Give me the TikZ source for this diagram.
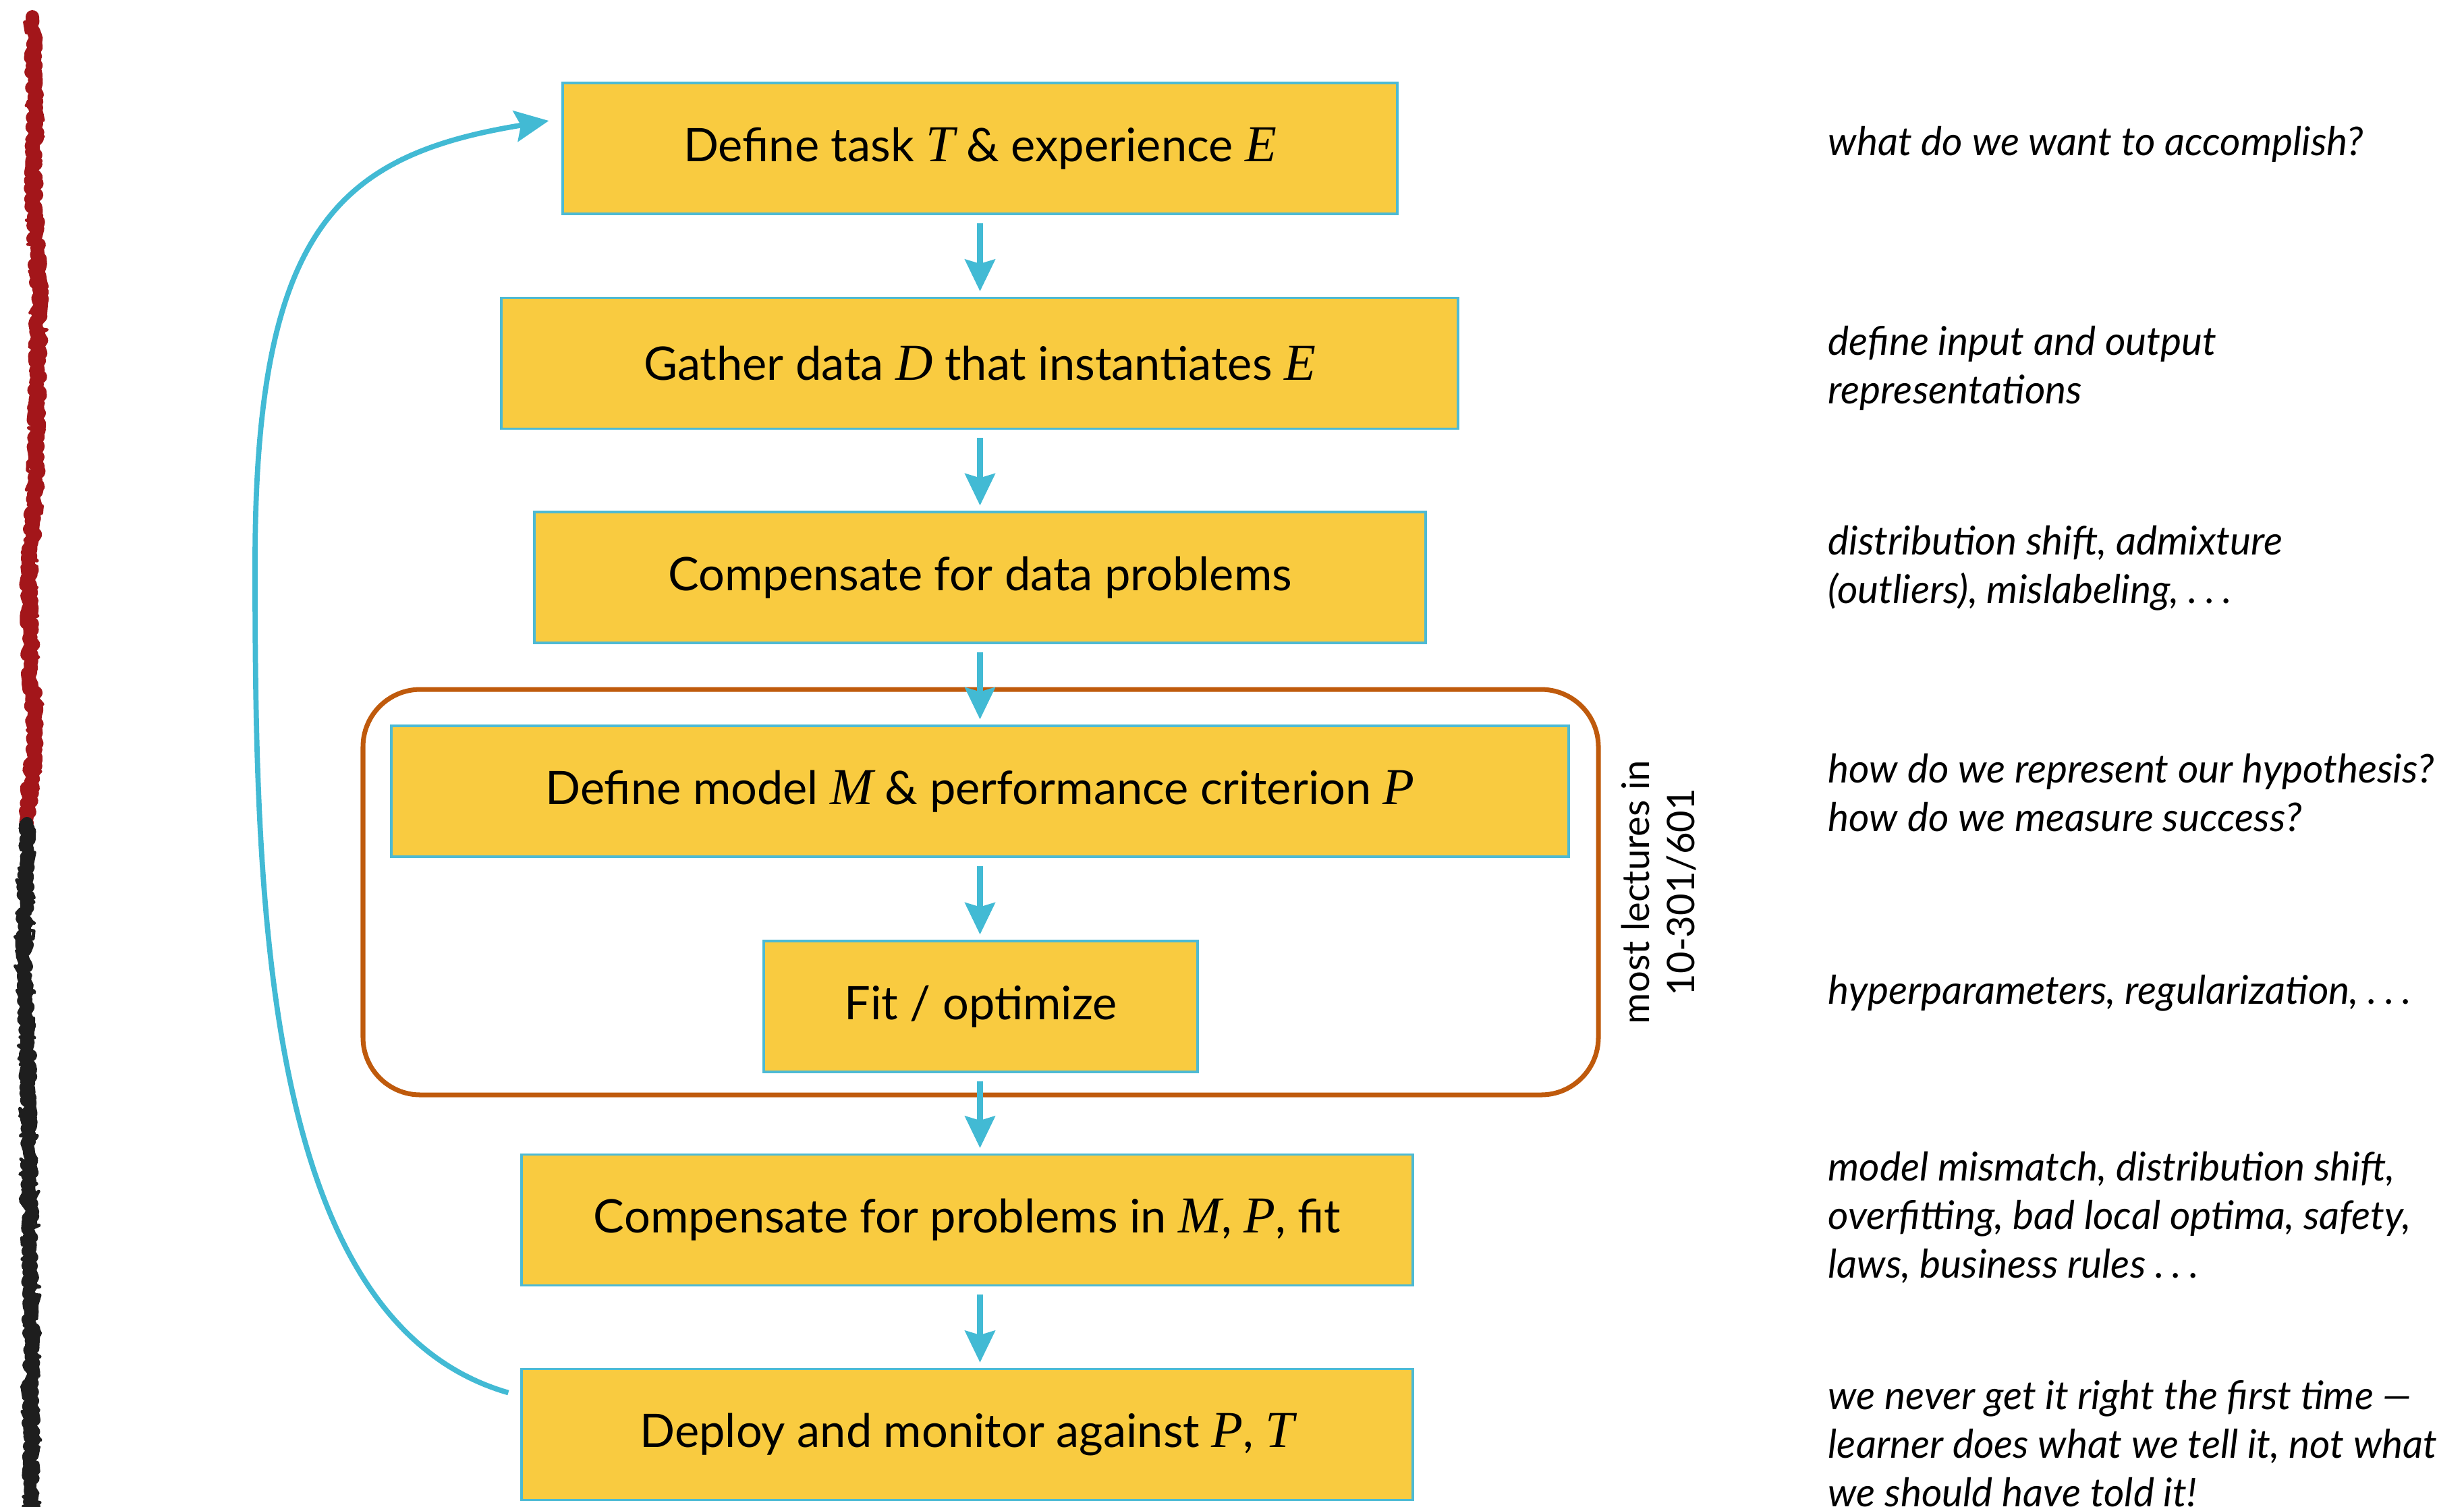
\documentclass[tikz,border=0pt]{standalone}
\usepackage{fontspec}
\setmainfont{Lato}
\newfontfamily\varfont[Scale=1.12]{Liberation Serif}
\usetikzlibrary{arrows.meta,decorations.pathmorphing}
\definecolor{boxfill}{HTML}{F9CB40}
\definecolor{boxline}{HTML}{4DBAD4}
\definecolor{flow}{HTML}{42BAD4}
\definecolor{course}{HTML}{BF5A0C}
\definecolor{inkred}{HTML}{A3161A}
\definecolor{inkblack}{HTML}{1E1E1E}
\newcommand{\var}[1]{{\varfont\itshape #1}}
\newcommand{\spdots}{.\kern0.2em.\kern0.2em.}

\begin{document}
\begin{tikzpicture}[
  stage/.style={draw=boxline, line width=0.9pt, fill=boxfill, inner sep=0pt,
    minimum height=1.94cm, font=\fontsize{19.5}{24}\selectfont},
  flowarrow/.style={flow, line width=2.6pt,
    -{Stealth[length=0.47cm,width=0.44cm,inset=0.06cm]},
    shorten <=0.12cm, shorten >=0.08cm},
  loopback/.style={flow, line width=2.2pt,
    -{Stealth[length=0.5cm,width=0.46cm,inset=0.08cm]}},
  note/.style={anchor=west, align=left, inner sep=0pt,
    font=\fontsize{16.7}{20.5}\selectfont\itshape},
  stripe/.style={line width=#1, line join=round, line cap=round, decorate,
    decoration={random steps, segment length=0.04cm, amplitude=0.05cm}},
]
  \useasboundingbox (0,0) rectangle (36.52,-22.33);

  \pgfmathsetseed{11}
  \draw[inkred, stripe=0.2cm] (0.48,-0.25) -- (0.52,-1.6) -- (0.50,-2.85) -- (0.58,-4.3)
    -- (0.55,-5.7) -- (0.53,-7.12) -- (0.43,-8.55) -- (0.45,-9.97) -- (0.52,-10.6)
    -- (0.50,-11.11) -- (0.40,-12.2);
  \draw[inkred, stripe=0.05cm, decoration={amplitude=0.13cm}] (0.48,-0.3) -- (0.52,-1.6)
    -- (0.50,-2.85) -- (0.58,-4.3) -- (0.55,-5.7) -- (0.53,-7.12) -- (0.43,-8.55)
    -- (0.45,-9.97) -- (0.52,-10.6) -- (0.50,-11.11) -- (0.40,-12.2);
  \draw[inkblack, stripe=0.18cm] (0.40,-12.2) -- (0.38,-12.82) -- (0.36,-14.25)
    -- (0.41,-15.67) -- (0.43,-17.09) -- (0.45,-18.52) -- (0.46,-19.94) -- (0.46,-22.5);
  \draw[inkblack, stripe=0.05cm, decoration={amplitude=0.14cm}] (0.40,-12.2) -- (0.38,-12.82)
    -- (0.36,-14.25) -- (0.41,-15.67) -- (0.43,-17.09) -- (0.45,-18.52) -- (0.46,-19.94) -- (0.46,-22.5);

  \node[draw=course, line width=2pt, rounded corners=0.85cm,
    minimum width=18.31cm, minimum height=6.01cm] (lectures) at (14.535,-13.225) {};
  \node[rotate=90, anchor=north, align=center, inner sep=0pt,
    font=\fontsize{16}{19}\selectfont] (lectureslabel)
    at ([xshift=0.3cm]lectures.east) {most lectures in\\10-301/601};

  \node[stage, minimum width=12.37cm] (task) at (14.525,-2.20)
    {Define task \var{T} \& experience \var{E}};
  \node[stage, minimum width=14.18cm] (data) at (14.52,-5.385)
    {Gather data \var{D} that instantiates \var{E}};
  \node[stage, minimum width=13.21cm] (comp) at (14.525,-8.56)
    {Compensate for data problems};
  \node[stage, minimum width=17.45cm] (model) at (14.525,-11.73)
    {Define model \var{M} \& performance criterion \var{P}};
  \node[stage, minimum width=6.43cm] (fit) at (14.535,-14.92)
    {Fit / optimize};
  \node[stage, minimum width=13.21cm] (fix) at (14.335,-18.085)
    {Compensate for problems in \var{M}, \var{P}, fit};
  \node[stage, minimum width=13.21cm] (deploy) at (14.335,-21.265)
    {Deploy and monitor against \var{P}, \var{T}};

  \draw[flowarrow] (task.south) -- (data.north -| task.south);
  \draw[flowarrow] (data.south -| task.south) -- (comp.north -| task.south);
  \draw[flowarrow] (comp.south -| task.south) -- (model.north -| task.south);
  \draw[flowarrow] (model.south -| task.south) -- (fit.north -| task.south);
  \draw[flowarrow] (fit.south -| task.south) -- (fix.north -| task.south);
  \draw[flowarrow] (fix.south -| task.south) -- (deploy.north -| task.south);

  \coordinate (bend) at (3.78,-8.36);
  \draw[loopback] ([xshift=-0.18cm,yshift=0.62cm]deploy.west)
    .. controls (3.9,-19.6) and (3.78,-13.4) .. (bend)
    .. controls (3.78,-3.4) and (5.0,-2.3) .. ([xshift=-0.19cm,yshift=0.41cm]task.west);

  \node[note] (taskwhy) at (27.09,-2.14) {what do we want to accomplish?};
  \node[note] (datawhy) at (27.09,-5.46) {define input and output\\representations};
  \node[note] (compwhy) at (27.09,-8.42) {distribution shift, admixture\\(outliers), mislabeling, \spdots};
  \node[note] (modelwhy) at (27.09,-11.75) {how do we represent our hypothesis?\\how do we measure success?};
  \node[note] (fitwhy) at (27.09,-14.72) {hyperparameters, regularization, \spdots};
  \node[note] (fixwhy) at (27.09,-18.05) {model mismatch, distribution shift,\\overfitting, bad local optima, safety,\\laws, business rules \spdots};
  \node[note] (deploywhy) at (27.09,-21.40) {we never get it right the first time ---\\learner does what we tell it, not what\\we should have told it!};
\end{tikzpicture}
\end{document}
